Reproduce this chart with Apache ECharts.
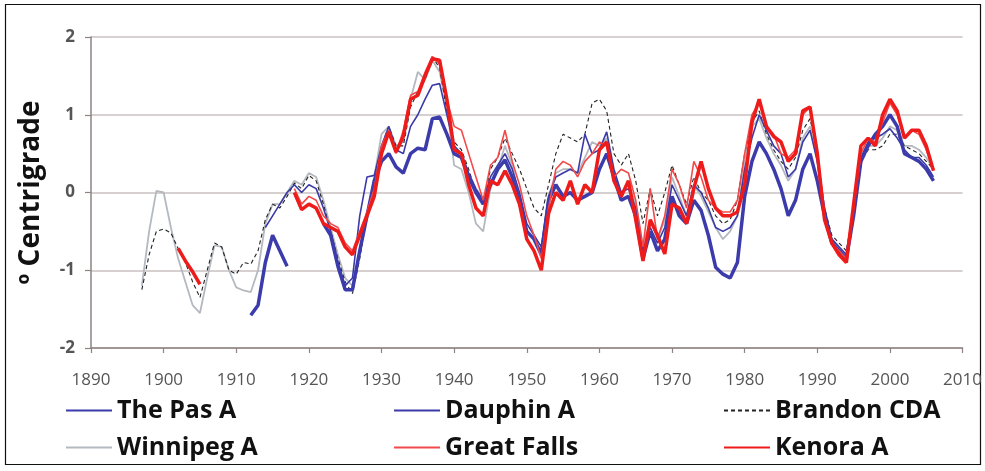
<!DOCTYPE html>
<html><head><meta charset="utf-8">
<script src="https://cdn.jsdelivr.net/npm/echarts@6/dist/echarts.min.js"></script>
<style>html,body{margin:0;padding:0;background:#fff}#c{width:985px;height:471px}</style>
</head><body><div id="c"></div>
<script>
// ---- data (yearly running-mean anomalies, °C) ----
const seriesNames = ['The Pas A','Dauphin A','Brandon CDA','Winnipeg A','Great Falls','Kenora A'];
const xTicks = [1890,1900,1910,1920,1930,1940,1950,1960,1970,1980,1990,2000,2010];
const yTicks = [-2,-1,0,1,2];

const thePasEarlyStart = 1912;
const thePasEarly = [-1.58,-1.45,-0.9,-0.55,-0.75,-0.95];
const thePasMainStart = 1922;
const thePasMain = [
 -0.4,-0.55,-0.95,-1.25,-1.25,-0.75,-0.3,0.15,0.4,0.5,
 0.33,0.25,0.5,0.57,0.55,0.95,0.97,0.75,0.5,0.45,
 0.2,0.0,-0.15,0.1,0.3,0.42,0.2,-0.1,-0.5,-0.6,
 -0.8,-0.1,0.1,-0.05,0.0,-0.1,-0.05,0.0,0.3,0.5,
 0.2,-0.1,-0.05,-0.3,-0.85,-0.5,-0.75,-0.6,-0.05,-0.3,
 -0.4,-0.1,-0.23,-0.55,-0.96,-1.05,-1.1,-0.9,-0.05,0.4,
 0.65,0.5,0.3,0.05,-0.3,-0.1,0.3,0.5,0.15,-0.3,
 -0.65,-0.75,-0.85,-0.3,0.4,0.6,0.75,0.85,1.0,0.85,
 0.5,0.45,0.4,0.3,0.15];

const dauphinStart = 1914;
const dauphin = [
 -0.45,-0.3,-0.15,0.0,0.1,0.0,0.1,0.05,-0.2,-0.5,
 -0.9,-1.2,-1.1,-0.3,0.2,0.22,0.6,0.85,0.55,0.5,
 0.85,1.0,1.2,1.38,1.4,1.0,0.6,0.5,0.25,0.05,
 -0.1,0.2,0.35,0.5,0.3,0.0,-0.4,-0.55,-0.7,-0.05,
 0.2,0.25,0.3,0.25,0.75,0.5,0.55,0.78,0.3,0.0,
 0.05,-0.2,-0.75,-0.45,-0.65,-0.45,0.1,-0.1,-0.3,0.1,
 0.0,-0.2,-0.45,-0.5,-0.45,-0.3,0.3,0.7,1.0,0.8,
 0.6,0.5,0.2,0.3,0.65,0.8,0.4,-0.2,-0.6,-0.7,
 -0.8,-0.25,0.45,0.65,0.7,0.75,0.82,0.7,0.55,0.45,
 0.45,0.35,0.2];

const brandonStart = 1897;
const brandon = [
 -1.25,-0.8,-0.5,-0.47,-0.52,-0.72,-0.9,-1.15,-1.35,-1.0,
 -0.65,-0.7,-1.0,-1.05,-0.9,-0.92,-0.75,-0.35,-0.15,-0.2,
 -0.05,0.12,0.05,0.22,0.15,-0.15,-0.5,-0.85,-1.15,-1.3,
 -0.85,-0.3,0.1,0.6,0.85,0.6,0.6,1.1,1.3,1.45,
 1.75,1.6,1.05,0.65,0.55,0.3,0.0,-0.15,0.3,0.45,
 0.7,0.5,0.3,0.05,-0.2,-0.3,0.1,0.5,0.75,0.7,
 0.65,0.75,1.15,1.2,1.05,0.5,0.35,0.5,0.15,-0.4,
 0.05,-0.3,0.0,0.35,0.1,-0.15,0.2,0.0,-0.1,-0.3,
 -0.4,-0.35,-0.1,0.5,0.9,1.05,0.75,0.55,0.4,0.3,
 0.45,0.8,0.95,0.5,-0.2,-0.55,-0.65,-0.75,-0.2,0.4,
 0.55,0.55,0.6,0.75,0.75,0.6,0.55,0.5,0.4,0.3];

const winnipegStart = 1897;
const winnipeg = [
 -1.2,-0.5,0.02,0.0,-0.45,-0.85,-1.15,-1.45,-1.55,-1.1,
 -0.68,-0.7,-1.0,-1.22,-1.26,-1.28,-1.0,-0.4,-0.15,-0.15,
 0.0,0.15,0.1,0.25,0.2,-0.1,-0.45,-0.8,-1.1,-1.2,
 -0.8,-0.3,0.2,0.75,0.85,0.6,0.65,1.2,1.55,1.45,
 1.7,1.55,1.1,0.35,0.3,0.0,-0.4,-0.5,0.05,0.3,
 0.6,0.35,-0.1,-0.5,-0.6,-0.75,-0.05,0.25,0.3,0.3,
 0.25,0.45,0.65,0.6,0.7,0.25,0.0,0.1,-0.15,-0.7,
 -0.35,-0.6,-0.35,0.2,-0.05,-0.3,0.1,-0.05,-0.25,-0.45,
 -0.6,-0.5,-0.3,0.4,0.85,0.95,0.7,0.5,0.35,0.15,
 0.3,0.7,0.85,0.4,-0.25,-0.6,-0.7,-0.8,-0.2,0.45,
 0.6,0.6,0.7,0.85,0.8,0.6,0.6,0.55,0.45,0.3];

const greatFallsStart = 1918;
const greatFalls = [
 0.05,-0.15,-0.05,-0.1,-0.3,-0.4,-0.45,-0.65,-0.75,-0.5,
 -0.25,0.05,0.6,0.8,0.5,0.8,1.25,1.3,1.55,1.75,
 1.65,1.2,0.85,0.8,0.5,0.2,-0.1,0.35,0.45,0.8,
 0.4,0.1,-0.3,-0.55,-0.85,-0.2,0.3,0.4,0.35,0.2,
 0.4,0.5,0.65,0.6,0.2,0.3,0.25,-0.1,-0.7,0.05,
 -0.6,-0.3,0.3,0.1,-0.2,0.4,0.2,-0.1,-0.2,-0.25,
 -0.25,-0.1,0.5,1.0,1.15,0.85,0.75,0.5,0.45,0.55,
 1.0,1.1,0.55,-0.3,-0.65,-0.75,-0.85,-0.2,0.5,0.7,
 0.65,0.9,1.15,1.0,0.7,0.8,0.75,0.55,0.3];

const kenoraEarlyStart = 1902;
const kenoraEarly = [-0.72,-0.88,-1.02,-1.18];
const kenoraMainStart = 1918;
const kenoraMain = [
 0.0,-0.22,-0.15,-0.2,-0.4,-0.45,-0.5,-0.7,-0.8,-0.55,
 -0.3,-0.05,0.5,0.78,0.52,0.72,1.2,1.25,1.5,1.72,
 1.7,1.2,0.55,0.5,0.1,-0.2,-0.3,0.15,0.1,0.28,
 0.1,-0.15,-0.6,-0.75,-1.0,-0.27,0.0,-0.1,0.15,-0.15,
 0.1,0.0,0.55,0.65,0.15,-0.05,0.15,-0.35,-0.88,-0.35,
 -0.55,-0.79,-0.15,-0.2,-0.4,0.05,0.4,0.05,-0.2,-0.3,
 -0.3,-0.25,0.1,0.9,1.2,0.85,0.72,0.65,0.4,0.5,
 1.05,1.1,0.5,-0.35,-0.65,-0.8,-0.9,-0.15,0.6,0.7,
 0.6,1.0,1.2,1.05,0.7,0.8,0.8,0.6,0.28];

// ---- build [year, value] pairs ----
function pairs(start, vals){ return vals.map((v,i)=>[start+i, v]); }
function joined(a, b){ return a.concat([[ (a[a.length-1][0]+b[0][0])/2, null ]], b); }

const dataThePas = joined(pairs(thePasEarlyStart, thePasEarly), pairs(thePasMainStart, thePasMain));
const dataDauphin = pairs(dauphinStart, dauphin);
const dataBrandon = pairs(brandonStart, brandon);
const dataWinnipeg = pairs(winnipegStart, winnipeg);
const dataGreatFalls = pairs(greatFallsStart, greatFalls);
const dataKenora = joined(pairs(kenoraEarlyStart, kenoraEarly), pairs(kenoraMainStart, kenoraMain));

const FONT = '"Open Sans", "DejaVu Sans", sans-serif';
const styles = {
  'The Pas A':   {color:'#3b3bab', width:3.5, type:'solid'},
  'Dauphin A':   {color:'#3a3aa8', width:1.6, type:'solid'},
  'Brandon CDA': {color:'#222222', width:1.1, type:[4,3]},
  'Winnipeg A':  {color:'#b4b9c0', width:1.8, type:'solid'},
  'Great Falls': {color:'#f24a4a', width:1.6, type:'solid'},
  'Kenora A':    {color:'#ee1b1b', width:3.5, type:'solid'}
};
const dataMap = {
  'The Pas A': dataThePas, 'Dauphin A': dataDauphin, 'Brandon CDA': dataBrandon,
  'Winnipeg A': dataWinnipeg, 'Great Falls': dataGreatFalls, 'Kenora A': dataKenora
};
const drawOrder = ['Winnipeg A','Brandon CDA','Dauphin A','The Pas A','Great Falls','Kenora A'];

const legendPos = {
  'The Pas A':[60,393], 'Dauphin A':[388,393], 'Brandon CDA':[718,393],
  'Winnipeg A':[60,430], 'Great Falls':[388,430], 'Kenora A':[718,430]
};

const chart = echarts.init(document.getElementById('c'), null, {renderer:'canvas'});
chart.setOption({
  animation:false,
  backgroundColor:'#ffffff',
  graphic:[{type:'rect', shape:{x:5.5,y:4.5,width:975,height:460}, style:{fill:'none', stroke:'#111', lineWidth:1.2}, silent:true}],
  grid:{left:91, right:17, top:37, bottom:123, containLabel:false},
  xAxis:{
    type:'value', min:xTicks[0], max:xTicks[xTicks.length-1], interval:10,
    axisLine:{show:true, onZero:false, lineStyle:{color:'#8e8282', width:1.5}},
    axisTick:{show:true, inside:false, length:5, lineStyle:{color:'#8e8282', width:1.2}},
    axisLabel:{color:'#555', fontFamily:FONT, fontSize:17, margin:24, formatter:v=>String(v)},
    splitLine:{show:false}
  },
  yAxis:{
    type:'value', min:yTicks[0], max:yTicks[yTicks.length-1], interval:1,
    name:'º Centrigrade', nameLocation:'middle', nameGap:46, nameRotate:90,
    nameTextStyle:{fontFamily:FONT, fontWeight:'bold', fontSize:28, color:'#111'},
    axisLine:{show:true, lineStyle:{color:'#8e8282', width:1.5}},
    axisTick:{show:true, inside:false, length:6, lineStyle:{color:'#8e8282', width:1.2}},
    axisLabel:{color:'#555', fontFamily:FONT, fontSize:17, margin:16, fontWeight:'bold'},
    splitLine:{show:true, lineStyle:{color:'#c9c1c1', width:1.6}}
  },
  legend: seriesNames.map(n=>({
    data:[n], left:legendPos[n][0], top:legendPos[n][1], itemWidth:46, itemHeight:14, itemGap:0,
    selectedMode:false, itemStyle:{opacity:0},
    textStyle:{fontFamily:FONT, fontWeight:'bold', fontSize:25, color:'#111'}
  })),
  series: drawOrder.map(n=>({
    name:n, type:'line', data:dataMap[n], symbol:'none', showSymbol:false,
    connectNulls:false, smooth:false,
    lineStyle:{color:styles[n].color, width:styles[n].width, type:styles[n].type},
    itemStyle:{color:styles[n].color},
    emphasis:{disabled:true}
  }))
});
</script></body></html>
